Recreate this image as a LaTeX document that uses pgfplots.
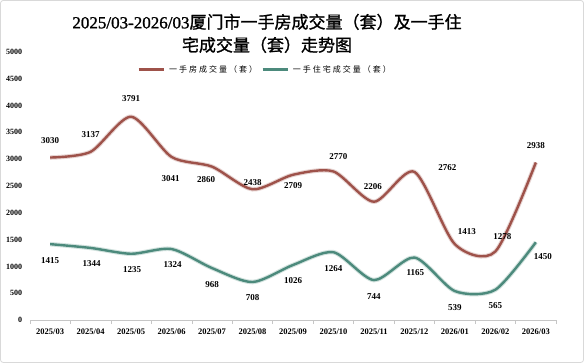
\documentclass[border=0pt]{standalone}
\usepackage{pgfplots}
\pgfplotsset{compat=1.18}
\usepackage{pgfplotstable}
\usepackage{fontspec}
\setmainfont{Liberation Serif}
\newfontfamily\cjk{Noto Sans CJK SC}
\newfontfamily\cjkt{Noto Sans CJK SC}[FakeBold=1.2]
\newfontfamily\cjkl{Noto Sans CJK SC}[LetterSpace=25]
\newfontfamily\titlenum{Liberation Serif}[FakeBold=1.2]
\definecolor{rline}{RGB}{158,82,74}
\definecolor{tline}{RGB}{76,138,124}
\pgfplotstableread{
x y dx dy
0 3030 0 16.5
1 3137 0 17
2 3791 0 18
3 3041 -1 -22
4 2860 -6 -13
5 2438 0 7
6 2709 0 -11
7 2770 5 14.5
8 2206 -1 15
9 2762 33 4
10 1413 12 13
11 1278 7 14.5
12 2938 0 16.5
}\redtab
\pgfplotstableread{
x y dx dy
0 1415 0 -16
1 1344 1 -16
2 1235 1 -16
3 1324 1 -16
4 968 0 -16
5 708 0 -16
6 1026 0 -16
7 1264 0 -16
8 744 0 -16
9 1165 1 -15.5
10 539 0 -16
11 565 0 -16
12 1450 7 -14.5
}\tealtab
\begin{document}
\begin{tikzpicture}[x=1pt,y=1pt]
\path[draw=gray!30, line width=0.8pt, rounded corners=3pt] (0.5,0.5) rectangle (583.5,362.5);
\node[font=\fontsize{17}{20}\selectfont] at (267,341) {{\titlenum 2025/03-2026/03}{\cjkt 厦门市一手房成交量（套）及一手住}};
\node[font=\fontsize{17}{20}\selectfont] at (267,318) {{\cjkt 宅成交量（套）走势图}};
\begin{axis}[
  at={(30pt,43pt)}, anchor=south west, scale only axis,
  width=526pt, height=268pt,
  xmin=-0.5, xmax=12.5, ymin=0, ymax=5000,
  xtick={0,...,12},
  xticklabels={2025/03,2025/04,2025/05,2025/06,2025/07,2025/08,2025/09,2025/10,2025/11,2025/12,2026/01,2026/02,2026/03},
  minor xtick={-0.5,0.5,...,12.5},
  ytick={0,500,...,5000},
  axis x line*=bottom, axis y line*=left,
  y axis line style={draw=none},
  x axis line style={draw=gray!45, line width=0.6pt, -},
  major x tick style={draw=none},
  minor x tick style={draw=gray!45, line width=0.6pt},
  minor tick length=4pt,
  tick align=outside,
  ytick style={draw=none},
  /pgf/number format/assume math mode=true,
  /pgf/number format/1000 sep={},
  xticklabel style={font=\bfseries\fontsize{8.5}{9}\selectfont, yshift=-1pt},
  yticklabel style={font=\bfseries\fontsize{8}{9}\selectfont},
  legend columns=2,
  legend style={at={(0.447,0.933)}, anchor=center, draw=none, fill=none,
    font=\cjkl\fontsize{8}{10}\selectfont, column sep=2pt},
  legend image code/.code={\draw[line width=2.8pt] (0pt,0pt) -- (25pt,0pt);},
  clip=false,
  every axis plot/.append style={tension=0.45},
]
\addplot[draw=rline!25, line width=4.5pt, smooth, forget plot] table[x=x,y=y] {\redtab};
\addplot[draw=rline, line width=2.4pt, smooth,
  point meta=explicit symbolic,
  visualization depends on={\thisrow{dx}\as\dx},
  visualization depends on={\thisrow{dy}\as\dy},
  nodes near coords={\pgfplotspointmeta},
  nodes near coords style={anchor=center, text=black, font=\bfseries\fontsize{9}{10}\selectfont, xshift=\dx, yshift=\dy},
] table[x=x,y=y,meta=y] {\redtab};
\addlegendentry{一手房成交量（套）}
\addplot[draw=tline!25, line width=4.5pt, smooth, forget plot] table[x=x,y=y] {\tealtab};
\addplot[draw=tline, line width=2.4pt, smooth,
  point meta=explicit symbolic,
  visualization depends on={\thisrow{dx}\as\dx},
  visualization depends on={\thisrow{dy}\as\dy},
  nodes near coords={\pgfplotspointmeta},
  nodes near coords style={anchor=center, text=black, font=\bfseries\fontsize{9}{10}\selectfont, xshift=\dx, yshift=\dy},
] table[x=x,y=y,meta=y] {\tealtab};
\addlegendentry{一手住宅成交量（套）}
\end{axis}
\end{tikzpicture}
\end{document}
